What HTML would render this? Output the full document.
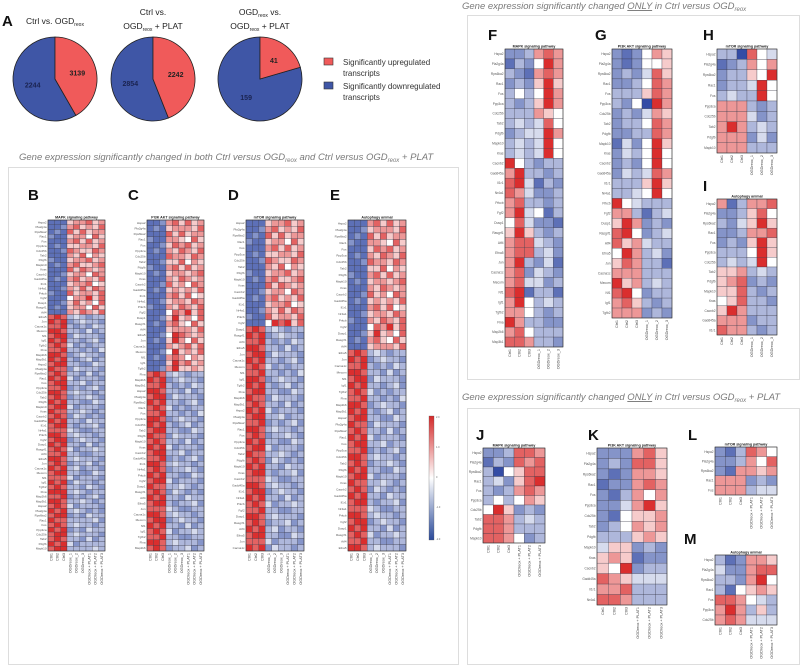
<!DOCTYPE html>
<html><head><meta charset="utf-8"><style>
html,body{margin:0;padding:0;background:#fff}
svg{display:block;font-family:"Liberation Sans",sans-serif}
.sec{font-family:"Liberation Sans",sans-serif;font-style:italic;fill:#7a7a7a;font-size:9.5px}
.let{font-weight:bold;font-size:15px;fill:#111}
</style></head><body>
<svg id="fig" width="800" height="666" viewBox="0 0 800 666">
<g>
<text class="let" x="2" y="26">A</text>
<text x="55" y="24" font-size="8.5" text-anchor="middle" fill="#222">Ctrl vs. OGD<tspan font-size="5" dy="2">reox</tspan></text>
<text x="153" y="15" font-size="8.5" text-anchor="middle" fill="#222">Ctrl vs.</text>
<text x="153" y="29" font-size="8.5" text-anchor="middle" fill="#222">OGD<tspan font-size="5" dy="2">reox</tspan><tspan dy="-2"> + PLAT</tspan></text>
<text x="260" y="15" font-size="8.5" text-anchor="middle" fill="#222">OGD<tspan font-size="5" dy="2">reox</tspan><tspan dy="-2"> vs.</tspan></text>
<text x="260" y="29" font-size="8.5" text-anchor="middle" fill="#222">OGD<tspan font-size="5" dy="2">reox</tspan><tspan dy="-2"> + PLAT</tspan></text>
<g id="pies"></g>
<rect x="324" y="58" width="9" height="7" fill="#f05a5a" stroke="#333" stroke-width="0.6"/>
<text x="343" y="65" font-size="8" fill="#333">Significantly upregulated</text>
<text x="343" y="76" font-size="8" fill="#333">transcripts</text>
<rect x="324" y="82" width="9" height="7" fill="#3f56a6" stroke="#333" stroke-width="0.6"/>
<text x="343" y="89" font-size="8" fill="#333">Significantly downregulated</text>
<text x="343" y="100" font-size="8" fill="#333">transcripts</text>
</g>
<text class="sec" x="19" y="160">Gene expression significantly changed in both Ctrl versus OGD<tspan font-size="6" dy="2">reox</tspan><tspan dy="-2"> and Ctrl versus OGD</tspan><tspan font-size="6" dy="2">reox</tspan><tspan dy="-2"> + PLAT</tspan></text>
<rect x="8.5" y="167.5" width="450" height="497" fill="none" stroke="#ddd"/>
<text class="sec" x="462" y="9">Gene expression significantly changed <tspan text-decoration="underline">ONLY</tspan> in Ctrl versus OGD<tspan font-size="6" dy="2">reox</tspan></text>
<rect x="467.5" y="15.5" width="332" height="364" fill="none" stroke="#ddd"/>
<text class="sec" x="462" y="400">Gene expression significantly changed <tspan text-decoration="underline">ONLY</tspan> in Ctrl versus OGD<tspan font-size="6" dy="2">reox</tspan><tspan dy="-2"> + PLAT</tspan></text>
<rect x="467.5" y="408.5" width="332" height="256" fill="none" stroke="#ddd"/>
<text class="let" x="28" y="200">B</text>
<text class="let" x="128" y="200">C</text>
<text class="let" x="228" y="200">D</text>
<text class="let" x="330" y="200">E</text>
<text class="let" x="488" y="40">F</text>
<text class="let" x="595" y="40">G</text>
<text class="let" x="703" y="40">H</text>
<text class="let" x="703" y="191">I</text>
<text class="let" x="476" y="440">J</text>
<text class="let" x="588" y="440">K</text>
<text class="let" x="688" y="440">L</text>
<text class="let" x="684" y="544">M</text>
<defs><linearGradient id="cb" x1="0" y1="0" x2="0" y2="1"><stop offset="0" stop-color="#d42a2a"/><stop offset="0.5" stop-color="#ffffff"/><stop offset="1" stop-color="#2a4a9a"/></linearGradient></defs>
<rect x="429" y="416" width="5" height="124" fill="url(#cb)" stroke="#555" stroke-width="0.3"/>
<g font-size="2.5" fill="#666">
<text x="436" y="418">2.0</text><text x="436" y="448">1.0</text><text x="436" y="478">0</text><text x="436" y="508">-1.0</text><text x="436" y="540">-2.0</text></g>
<g id="heat"></g>
</svg>
<script>
// Pie data
const pieTitles = ["Ctrl vs. OGDreox", "Ctrl vs. OGDreox + PLAT", "OGDreox vs. OGDreox + PLAT"];
const pieUp = [2244, 2242, 41];
const pieDown = [3139, 2854, 159];
const pieUpLabels = ["3139", "2242", "41"];
const pieDownLabels = ["2244", "2854", "159"];

// Heatmap data: digits 0 (strong down, blue) .. 5 (neutral) .. 9 (strong up, red)
const heatB = ["111677867","112786768","121868677","211677586","111786867","121667768","112876687","111768576","211677867","121786678",
"111868767","112677587","121786768","111677856","112768687","211867768","111577968","112686758","121677586","111768768",
"898343233","989234332","889323243","998332423","899243332","989332342","898423233","889332324","998234332","989323423",
"899332243","988243332","898332423","989423332","899334233","889232342","998343323","898233432","989332243","899423332",
"988334323","898243232","989332433","899323342","888432233","998343323","899234332","989332423","898423343","889332233",
"998343332","898233423","989342332","899332243","888423332","989243323","898332432","999343233","889232342","998334323",
"898423332","989343232","899232433","988333342","898343323","989232433","899343332","898332423","989423333","899333343"];
const heatC = ["112786867","121677768","111868677","211776586","112687867","121768768","111877687","112668576","211786867","121677678",
"111768767","112867587","121676768","111786856","112677687","211768768","111587968","112696758","121786586","111677768",
"112598767","121697586","111767868","112596768","121787576","111697867","112796676",
"898343233","989234332","889323243","998332423","899243332","989332342","898423233","889332324","998234332","989323423",
"899332243","988243332","898332423","989423332","899334233","889232342","998343323","898233432","989332243","899423332",
"988334323","898243232","989332433","899323342","888432233","998343323","899234332","989332423","898423343","889332233",
"998343332","898233423"];
const heatD = ["111677867","112786768","121868677","211677586","111786867","121667768","112876687","111768576","211677867","121786678",
"111868767","112677587","121786768","111677856","112768687","211867768","111598968",
"898343233","989234332","889323243","998332423","899243332","989332342","898423233","889332324","998234332","989323423",
"899332243","988243332","898332423","989423332","899334233","889232342","998343323","898233432","989332243","899423332",
"988334323","898243232","989332433","899323342","888432233","998343323","899234332","989332423","898423343","889332233",
"998343332","898233423","989342332","899332243","888423332","989243323"];
const heatE = ["111786867","112677768","121868677","211776586","111687867","121768768","112877687","111668576","211786867","121677678",
"111768767","112867587","121676768","111786856","112677687","211768768","111587968","112696758","121786586","111677768",
"898343233","989234332","889323243","998332423","899243332","989332342","898423233","889332324","998234332","989323423",
"899332243","988243332","898332423","989423332","899334233","889232342","998343323","898233432","989332243","899423332",
"988334323","898243232","989332433","899323342","888432233","998343323","899234332","989332423","898423343","889332233",
"998343332"];
const heatF = ["223787","132597","321787","232696","353597","323697","333765","343485","234497","343495","343495",
"953233","793323","894132","874223","783323","794513","584221","696323","788432","788342","793241","782432","784423","891331","795343","775323","973322","785333","887332"];
const heatG = ["212576","212556","232486","223587","333687","325097","232476","233587","223387","142596","243595","232595","243487","333696","334595",
"954333","773134","697232","895234","867433","597342","687331","777333","967343","895233","786323","777232"];
const heatH = ["330854","123757","233659","233495","343395","777323","777423","797343","777242","777333"];
const heatI = ["713778","223685","324696","223778","232696","333596","343495","667343","678232","668323","568332","697333","777233","877323"];
const heatJ = ["223887","132878","305688","342689","323787","353576","596232","887343","887333","887523"];
const heatK = ["222786","232886","212776","122787","213757","224796","215667","235767","333676","466232","676122","659233","876444","778333","887333"];
const heatL = ["213875","223758","217767","777232","777344"];
const heatM = ["312776","422788","332795","315676","887543","797363","787444"];

const genes = ["Rac1","Fgf2","Map3k1","Gadd45a","Igf1","Pdgfb","Jun","Fos","Dusp1","Hspa2","Il1r1","Tgfb2","Mapk10","Cacna1c","Ppp3ca","Rasgrf1","Pla2g4a","Nr4a1","Flna","Kras","Mecom","Cdc25b","Atf4","Rps6ka2","Prkcb","Map2k6","Cacnb2","Nf1","Tab2","Efna5"];
const colsBE = ["Ctrl1","Ctrl2","Ctrl3","OGDreox_1","OGDreox_2","OGDreox_3","OGDreox + PLAT1","OGDreox + PLAT2","OGDreox + PLAT3"];
const colsFI = ["Ctrl1","Ctrl2","Ctrl3","OGDreox_1","OGDreox_2","OGDreox_3"];
const colsJM = ["Ctrl1","Ctrl2","Ctrl3","OGDreox + PLAT1","OGDreox + PLAT2","OGDreox + PLAT3"];

const NS = "http://www.w3.org/2000/svg";
function mk(tag, attrs, parent){const e=document.createElementNS(NS,tag);for(const k in attrs)e.setAttribute(k,attrs[k]);parent.appendChild(e);return e;}

// pies
const pg = document.getElementById("pies");
const pieCx = [55,153,260], pieCy = 79, pieR = 42;
function pt(cx,cy,r,a){return [cx+r*Math.sin(a), cy-r*Math.cos(a)];}
for(let i=0;i<3;i++){
  const tot = pieUp[i]+pieDown[i];
  const a = 2*Math.PI*pieUp[i]/tot;
  const cx=pieCx[i];
  const p1=pt(cx,pieCy,pieR,0), p2=pt(cx,pieCy,pieR,a);
  const large = a>Math.PI?1:0;
  const blue = mk("path",{d:`M${cx},${pieCy} L${p2[0]},${p2[1]} A${pieR},${pieR} 0 ${1-large} 1 ${p1[0]},${p1[1]} Z`,fill:"#3f56a6",stroke:"#222","stroke-width":0.8},pg);
  
  
  const red = mk("path",{d:`M${cx},${pieCy} L${p1[0]},${p1[1]} A${pieR},${pieR} 0 ${large} 1 ${p2[0]},${p2[1]} Z`,fill:"#f05a5a",stroke:"#222","stroke-width":0.8},pg);
  
  
  const lr = pt(cx,pieCy,pieR*0.55,a/2);
  const t1 = mk("text",{x:lr[0],y:lr[1]+2.5,"font-size":7,"font-weight":"bold","text-anchor":"middle",fill:"#222"},pg);
  t1.textContent = pieUpLabels[i];
  
  
  const lb = pt(cx,pieCy,pieR*0.55,a+(2*Math.PI-a)/2);
  const t2 = mk("text",{x:lb[0],y:lb[1]+2.5,"font-size":7,"font-weight":"bold","text-anchor":"middle",fill:"#1a2350"},pg);
  t2.textContent = pieDownLabels[i];
  
  
}

function color(d){
  const lo=[52,76,165], hi=[218,46,46], w=[255,255,255];
  let c;
  if(d<5){const t=(5-d)/5; c=w.map((v,k)=>Math.round(v+(lo[k]-v)*t));}
  else{const t=(d-5)/4; c=w.map((v,k)=>Math.round(v+(hi[k]-v)*t));}
  return `rgb(${c[0]},${c[1]},${c[2]})`;
}

const hg = document.getElementById("heat");
function heat(name,data,x0,y0,x1,y1,title,cols,fs){
  const g = mk("g",{},hg);
  
  
  const nr=data.length, nc=data[0].length;
  const cw=(x1-x0)/nc, ch=(y1-y0)/nr;
  for(let r=0;r<nr;r++){
    for(let c=0;c<nc;c++){
      const rc = mk("rect",{x:x0+c*cw,y:y0+r*ch,width:cw,height:ch,fill:color(+data[r][c]),stroke:"#3a3a4a","stroke-width":0.3},g);
      
      
    }
    const lt = mk("text",{x:x0-1.5,y:y0+r*ch+ch/2+fs*0.35,"font-size":fs,"text-anchor":"end",fill:"#555"},g);
    lt.textContent = genes[(r*7+name.length)%genes.length];
    
    
  }
  mk("rect",{x:x0,y:y0,width:x1-x0,height:y1-y0,fill:"none",stroke:"#333","stroke-width":0.6},g);
  const tt = mk("text",{x:(x0+x1)/2,y:y0-1.5,"font-size":3.6,"font-weight":"bold","text-anchor":"middle",fill:"#222"},g);
  tt.textContent = title;
  
  
  for(let c=0;c<nc;c++){
    const cx=x0+c*cw+cw/2+1.2, cy=y1+2;
    const ct = mk("text",{x:cx,y:cy,"font-size":3.8,"text-anchor":"end",fill:"#444",transform:`rotate(-90 ${cx} ${cy})`},g);
    ct.textContent = cols[c];
    
    
  }
}
heat("heatmap-b",heatB,48,220,105,551,"MAPK signaling pathway",colsBE,3);
heat("heatmap-c",heatC,147,220,204,551,"PI3K AKT signaling pathway",colsBE,3);
heat("heatmap-d",heatD,246,220,304,551,"mTOR signaling pathway",colsBE,3);
heat("heatmap-e",heatE,348,220,406,551,"Autophagy animal",colsBE,3);
heat("heatmap-f",heatF,505,49,563,347,"MAPK signaling pathway",colsFI,3.2);
heat("heatmap-g",heatG,612,49,672,318,"PI3K AKT signaling pathway",colsFI,3.2);
heat("heatmap-h",heatH,717,49,777,153,"mTOR signaling pathway",colsFI,3.2);
heat("heatmap-i",heatI,717,199,777,335,"Autophagy animal",colsFI,3.2);
heat("heatmap-j",heatJ,483,448,545,543,"MAPK signaling pathway",colsJM,3.2);
heat("heatmap-k",heatK,597,448,667,605,"PI3K AKT signaling pathway",colsJM,3.2);
heat("heatmap-l",heatL,715,447,777,495,"mTOR signaling pathway",colsJM,3.2);
heat("heatmap-m",heatM,715,555,777,625,"Autophagy animal",colsJM,3.2);
</script>
</body></html>
